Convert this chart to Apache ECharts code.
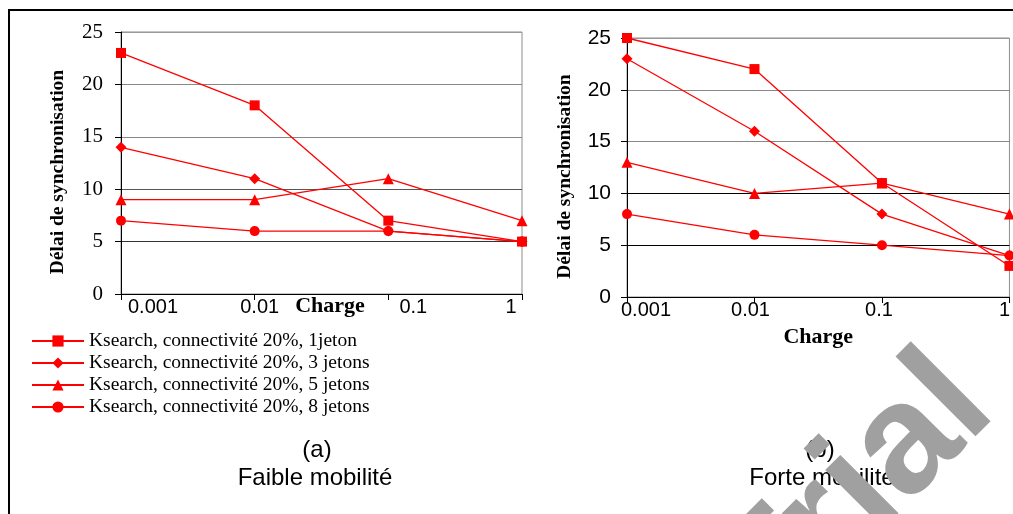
<!DOCTYPE html>
<html>
<head>
<meta charset="utf-8">
<style>
  html, body { margin: 0; padding: 0; background: #fff; }
  #chart { width: 1013px; height: 514px; }
</style>
<script src="https://cdn.jsdelivr.net/npm/echarts@6/dist/echarts.min.js"></script>
</head>
<body>
<div id="chart"></div>
<script>
// x categories (log-spaced charge values, drawn evenly like the original)
const charges = ['0.001', '0.01', '0.1', '1'];

const seriesNames = [
  'Ksearch, connectivité 20%, 1jeton',
  'Ksearch, connectivité 20%, 3 jetons',
  'Ksearch, connectivité 20%, 5 jetons',
  'Ksearch, connectivité 20%, 8 jetons'
];

// (a) Faible mobilité
const faibleJeton1 = [23, 18, 7, 5];
const faibleJeton3 = [14, 11, 6, 5];
const faibleJeton5 = [9, 9, 11, 7];
const faibleJeton8 = [7, 6, 6, 5];

// (b) Forte mobilité
const forteJeton1 = [25, 22, 11, 3];
const forteJeton3 = [23, 16, 8, 4];
const forteJeton5 = [13, 10, 11, 8];
const forteJeton8 = [8, 6, 5, 4];

const symbols = ['rect', 'diamond', 'triangle', 'circle'];
const symbolSizes = [10, 11, 11, 10];

const SERIF = '"Liberation Serif", "Times New Roman", serif';
const SANS = '"Liberation Sans", Arial, sans-serif';
const RED = '#ff0000';

// label offsets from the tick, like the excel export
const leftLabelShift = [32, 5, 25, -11];
const rightLabelShift = [19, -4, -3, -5];

function richFor(shifts, size) {
  const rich = {};
  shifts.forEach((d, i) => {
    rich['p' + i] = {
      fontFamily: SANS, fontSize: size, color: '#000',
      padding: d >= 0 ? [0, 0, 0, 2 * d] : [0, -2 * d, 0, 0]
    };
  });
  return rich;
}

function xAxisFor(idx, shifts, nameGap, namePad) {
  return {
    gridIndex: idx,
    type: 'category',
    data: charges,
    boundaryGap: false,
    axisLine: { lineStyle: { color: '#000', width: 1 } },
    axisTick: { show: true, length: 6, lineStyle: { color: '#000' } },
    axisLabel: {
      margin: 3,
      interval: 0,
      formatter: (v, i) => '{p' + i + '|' + v + '}',
      rich: richFor(shifts, 20)
    },
    splitLine: { show: false },
    name: 'Charge',
    nameLocation: 'middle',
    nameGap: nameGap,
    nameMoveOverlap: false,
    nameTextStyle: {
      fontFamily: SERIF, fontWeight: 'bold', fontSize: 22, color: '#000',
      padding: namePad
    }
  };
}

function yAxisFor(idx, labelFont, labelMargin, gridColors, nameGap) {
  return {
    gridIndex: idx,
    type: 'value',
    min: 0,
    max: 25,
    interval: 5,
    axisLine: { show: true, lineStyle: { color: '#000', width: 1 } },
    axisTick: { show: true, length: 6, lineStyle: { color: '#000' } },
    axisLabel: { margin: labelMargin, fontFamily: labelFont, fontSize: 21, color: '#000' },
    splitLine: { show: true, lineStyle: { color: gridColors, width: 1 } },
    name: 'Délai de synchronisation',
    nameLocation: 'middle',
    nameGap: nameGap,
    nameMoveOverlap: false,
    nameTextStyle: {
      fontFamily: SERIF, fontWeight: 'bold', fontSize: 19.5, color: '#000',
      padding: [0, 18, 0, 0]
    }
  };
}

function lineSeries(name, data, k, idx) {
  return {
    name: name,
    type: 'line',
    xAxisIndex: idx,
    yAxisIndex: idx,
    data: data,
    symbol: symbols[k],
    symbolSize: symbolSizes[k],
    showAllSymbol: true,
    clip: false,
    lineStyle: { color: RED, width: 1.3 },
    itemStyle: { color: RED, borderWidth: 0 },
    emphasis: { disabled: true }
  };
}

const faible = [faibleJeton1, faibleJeton3, faibleJeton5, faibleJeton8];
const forte = [forteJeton1, forteJeton3, forteJeton5, forteJeton8];

const chart = echarts.init(document.getElementById('chart'));

chart.setOption({
  animation: false,
  backgroundColor: '#fff',
  grid: [
    { left: 121, top: 32, width: 401, height: 262, show: true, borderColor: '#8c8c8c', borderWidth: 1, backgroundColor: 'transparent' },
    { left: 627, top: 38, width: 384, height: 259, show: true, borderColor: '#8c8c8c', borderWidth: 1, backgroundColor: 'transparent' }
  ],
  xAxis: [
    xAxisFor(0, leftLabelShift, 1, [0, 0, 0, 17]),
    xAxisFor(1, rightLabelShift, 29, 0)
  ],
  yAxis: [
    yAxisFor(0, SERIF, 18, ['#000', '#333', '#555', '#888', '#888', '#999'], 53),
    yAxisFor(1, SANS, 16, ['#000', '#000', '#000', '#888', '#888', '#999'], 52)
  ],
  legend: {
    orient: 'vertical',
    left: 26,
    top: 326,
    padding: 5,
    itemWidth: 52,
    itemHeight: 14,
    itemGap: 2,
    data: seriesNames,
    textStyle: { fontFamily: SERIF, fontSize: 19.5, color: '#000' }
  },
  series: [
    ...faible.map((d, k) => lineSeries(seriesNames[k], d, k, 0)),
    ...forte.map((d, k) => lineSeries(seriesNames[k], d, k, 1))
  ],
  graphic: [
    {
      type: 'rect',
      shape: { x: 9, y: 10, width: 1100, height: 600 },
      style: { fill: 'none', stroke: '#000', lineWidth: 2 },
      silent: true
    },
    {
      type: 'text', x: 317, y: 450,
      style: { text: '(a)', font: '24px ' + SANS, fill: '#000', textAlign: 'center', textVerticalAlign: 'middle' }
    },
    {
      type: 'text', x: 315, y: 478,
      style: { text: 'Faible mobilité', font: '24px ' + SANS, fill: '#000', textAlign: 'center', textVerticalAlign: 'middle' }
    },
    {
      type: 'text', x: 820, y: 450,
      style: { text: '(b)', font: '24px ' + SANS, fill: '#000', textAlign: 'center', textVerticalAlign: 'middle' }
    },
    {
      type: 'text', x: 822, y: 478,
      style: { text: 'Forte mobilité', font: '24px ' + SANS, fill: '#000', textAlign: 'center', textVerticalAlign: 'middle' }
    },
    {
      // watermark
      type: 'text', x: 968, y: 383, rotation: Math.PI / 4, z: 100,
      style: { text: 'Trial', font: 'bold 156px ' + SANS, fill: '#a0a0a0', textAlign: 'right', textVerticalAlign: 'middle' },
      silent: true
    }
  ]
});
</script>
</body>
</html>
